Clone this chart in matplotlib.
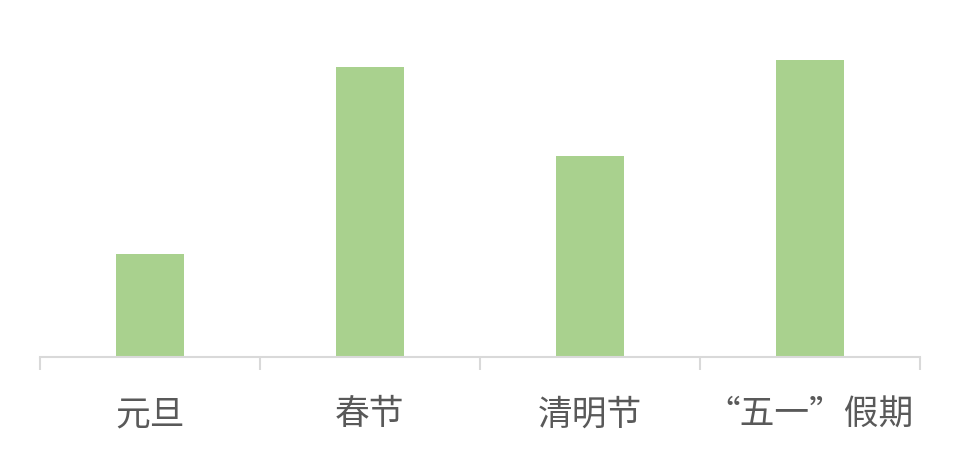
import matplotlib.pyplot as plt
import numpy as np

plt.rcParams['font.family'] = ['Noto Sans CJK SC', 'DejaVu Sans']

# categories and (relative) bar heights
holidays = ['元旦', '春节', '清明节', '“五一”假期']
values = [1.03, 2.90, 2.01, 2.97]

fig = plt.figure(figsize=(9.6, 4.7), dpi=100)
ax = fig.add_axes([40 / 960, 113 / 470, 880 / 960, 347 / 470])

x = np.arange(len(holidays))
ax.bar(x, values, width=0.31, color='#a9d18e')

ax.set_xlim(-0.5, len(holidays) - 0.5)
ax.set_ylim(0, 3.47)

for side in ['top', 'right', 'left']:
    ax.spines[side].set_visible(False)
ax.spines['bottom'].set_color('#d9d9d9')
ax.spines['bottom'].set_linewidth(1.5)

ax.set_yticks([])
ax.set_xticks(x)
ax.set_xticklabels(holidays, fontsize=25, color='#595959')
ax.tick_params(axis='x', which='major', length=0, pad=29)
ax.set_xticks(np.arange(-0.5, len(holidays)), minor=True)
ax.tick_params(axis='x', which='minor', length=9, width=1.5, color='#d9d9d9', direction='out')

fig.savefig('out.png', dpi=100)
